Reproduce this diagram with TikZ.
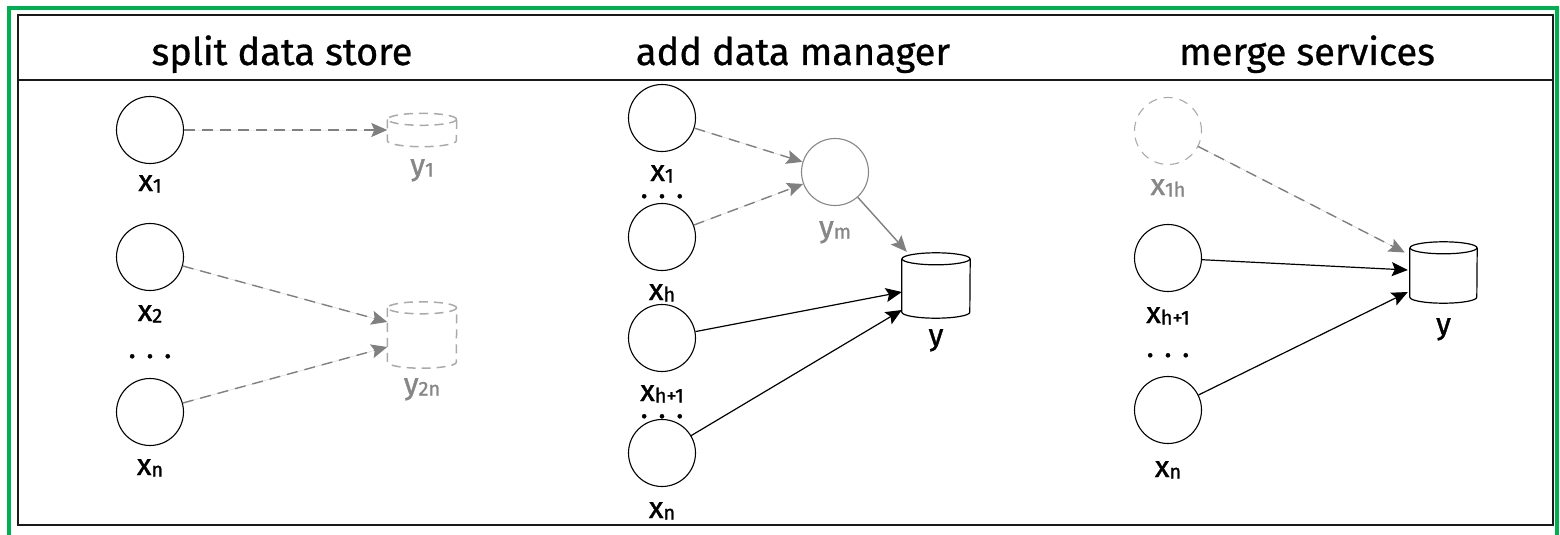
\documentclass[tikz,border=0pt]{standalone}
\usepackage{fontspec}
\setmainfont{Fira Sans}
\newfontfamily\labfont{Fira Sans}[FakeBold=1.2]
\newfontfamily\ttlfont{Fira Sans}[FakeBold=0.8]
\usetikzlibrary{arrows.meta,calc}
\definecolor{frgreen}{RGB}{0,176,80}
\definecolor{arrgray}{RGB}{128,128,128}
\definecolor{ghost}{RGB}{170,170,170}
\definecolor{labgray}{RGB}{135,135,135}
\newcommand{\subsc}[1]{\raisebox{-1.5pt}{\fontsize{20}{20}\selectfont #1}}
\newcommand{\cylout}[3]{%
  \draw[#3] ([yshift=-6pt]#1.north west) -- ([yshift=6pt]#1.south west)
    arc[start angle=180,end angle=360,x radius=#2,y radius=6pt]
    -- ([yshift=-6pt]#1.north east);
  \draw[#3] ([yshift=-6pt]#1.north) ellipse[x radius=#2,y radius=6pt];}
\tikzset{
  nodecirc/.style={circle,draw,line width=1.1pt,minimum size=67pt,inner sep=0pt},
  ghostcirc/.style={nodecirc,draw=ghost,dash pattern=on 9pt off 7pt},
  graycirc/.style={nodecirc,draw=labgray},
  cylbox/.style={rectangle,draw=none,inner sep=0pt},
  lab/.style={anchor=base,inner sep=0pt,text depth=0pt,font=\labfont\fontsize{30}{32}\selectfont},
  dotsn/.style={lab,text height=4pt},
  ttl/.style={anchor=base,inner sep=0pt,font=\ttlfont\fontsize{38}{40}\selectfont},
  tipstyle/.style={-{Stealth[length=16pt,width=14pt,inset=3pt]}},
  blackarr/.style={tipstyle,line width=1.2pt,draw=black},
  grayarr/.style={tipstyle,line width=1.4pt,draw=arrgray,fill=arrgray},
  dasharr/.style={grayarr,dash pattern=on 11pt off 7pt},
  ghostline/.style={draw=ghost,line width=1.5pt,dash pattern=on 9pt off 6pt},
  solidcyl/.style={draw=black,line width=1.2pt},
}
\begin{document}
\begin{tikzpicture}[x=1pt,y=-1pt]
\useasboundingbox (0,0) rectangle (1560,535);
\clip (0,0) rectangle (1560,535);
\fill[white] (0,0) rectangle (1560,535);
\draw[frgreen,line width=4pt] (9,8) rectangle (1557,600);
\draw[black!90,line width=1.6pt] (18,15) rectangle (1553,525);
\draw[black!90,line width=1.6pt] (18,80) -- (1553,80);

% titles
\node[ttl] (t1) at (282,65) {split data store};
\node[ttl] (t2) at (793,65) {add data manager};
\node[ttl] (t3) at (1307,65) {merge services};

% left panel
\node[nodecirc] (x1L) at (150,130) {};
\node[lab] (lx1L) at (150,191) {x\subsc{1}};
\node[nodecirc] (x2L) at (150,257) {};
\node[lab] (lx2L) at (150,321) {x\subsc{2}};
\node[dotsn] (dL) at (150,358) {. . .};
\node[nodecirc] (xnL) at (150,412) {};
\node[lab] (lxnL) at (150,475) {x\subsc{n}};
\node[cylbox,minimum width=69pt,minimum height=33pt] (y1L) at (422,130) {};
\node[cylbox,minimum width=69pt,minimum height=66pt] (y2nL) at (422,335) {};
\node[lab,text=labgray] (ly1L) at (422,175) {y\subsc{1}};
\node[lab,text=labgray] (ly2nL) at (422,394) {y\subsc{2n}};
\cylout{y1L}{34.5pt}{ghostline}
\cylout{y2nL}{34.5pt}{ghostline}
\draw[dasharr] (x1L) -- (y1L.west);
\draw[dasharr] (x2L) -- ($(y2nL.west)+(0,-13)$);
\draw[dasharr] (xnL) -- ($(y2nL.west)+(0,12)$);

% middle panel
\node[nodecirc] (x1M) at (662,118) {};
\node[lab] (lx1M) at (662,181) {x\subsc{1}};
\node[dotsn] (dM1) at (662,198) {. . .};
\node[nodecirc] (xhM) at (662,237) {};
\node[lab] (lxhM) at (662,300) {x\subsc{h}};
\node[nodecirc] (xh1M) at (662,338) {};
\node[lab] (lxh1M) at (662,401) {x\subsc{h+1}};
\node[dotsn] (dM2) at (662,418) {. . .};
\node[nodecirc] (xnM) at (662,453) {};
\node[lab] (lxnM) at (662,518) {x\subsc{n}};
\node[graycirc] (ymM) at (835,172) {};
\node[lab,text=labgray] (lymM) at (835,237) {y\subsc{m}};
\node[cylbox,minimum width=68pt,minimum height=65pt] (yM) at (936,285.5) {};
\node[lab] (lyM) at (936,345) {y};
\cylout{yM}{34pt}{solidcyl}
\draw[dasharr] (x1M) -- (ymM);
\draw[dasharr] (xhM) -- (ymM);
\draw[grayarr] (ymM) -- ($(yM.north west)+(5,-1)$);
\draw[blackarr] (xh1M) -- ($(yM.west)+(0,6.5)$);
\draw[blackarr] (xnM) -- ($(yM.west)+(0,24.5)$);

% right panel
\node[ghostcirc] (x1hR) at (1168,131) {};
\node[lab,text=labgray] (lx1hR) at (1168,195) {x\subsc{1h}};
\node[nodecirc] (xh1R) at (1168,258) {};
\node[lab] (lxh1R) at (1168,323) {x\subsc{h+1}};
\node[dotsn] (dR) at (1168,357) {. . .};
\node[nodecirc] (xnR) at (1168,410) {};
\node[lab] (lxnR) at (1168,477) {x\subsc{n}};
\node[cylbox,minimum width=67pt,minimum height=61pt] (yR) at (1443.5,272.5) {};
\node[lab] (lyR) at (1443.5,334) {y};
\cylout{yR}{33.5pt}{solidcyl}
\draw[dasharr] (x1hR) -- ($(yR.west)+(-5,-20)$);
\draw[blackarr] (xh1R) -- ($(yR.west)+(-2,-2.5)$);
\draw[blackarr] (xnR) -- ($(yR.west)+(-2,19.5)$);
\end{tikzpicture}
\end{document}
